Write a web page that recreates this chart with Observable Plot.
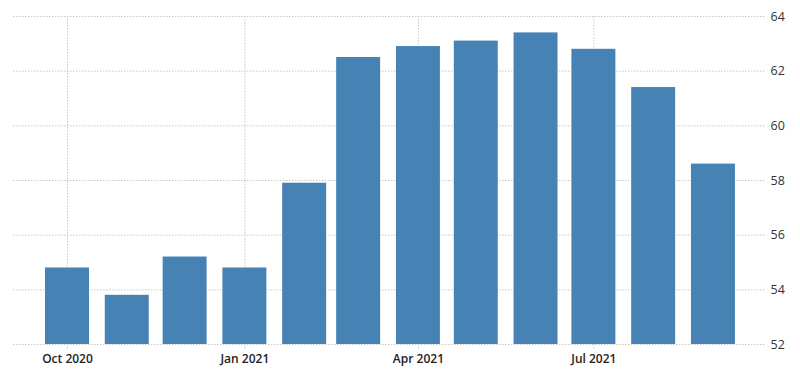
<!DOCTYPE html>
<html>
<head>
<meta charset="utf-8">
<script src="https://cdn.jsdelivr.net/npm/d3@7"></script>
<script src="https://cdn.jsdelivr.net/npm/@observablehq/plot@0.6"></script>
<style>
  html, body { margin: 0; padding: 0; background: #fff; }
  #chart svg { display: block; }
</style>
</head>
<body>
<div id="chart"></div>
<script>
const months = ["2020-10-01","2020-11-01","2020-12-01","2021-01-01","2021-02-01","2021-03-01",
                "2021-04-01","2021-05-01","2021-06-01","2021-07-01","2021-08-01","2021-09-01"];
const values = [54.8, 53.8, 55.2, 54.8, 57.9, 62.5, 62.9, 63.1, 63.4, 62.8, 61.4, 58.6];
const yTicks = [52, 54, 56, 58, 60, 62, 64];
const xTicks = ["2020-10-01","2021-01-01","2021-04-01","2021-07-01"];
const xDomain = ["2020-09-03","2021-09-28"];
const yDomain = [52, 64];

const halfBar = 11.4 * 24 * 3600 * 1000;
const data = months.map((m, i) => {
  const d = new Date(m);
  return {date: d, value: values[i], x1: new Date(+d - halfBar), x2: new Date(+d + halfBar)};
});
const fmt = d3.utcFormat("%b %Y");
const gridStyle = {stroke: "#c8c8c8", strokeOpacity: 1, strokeDasharray: "1.5,1.5"};

const chart = Plot.plot({
  width: 800,
  height: 374,
  marginTop: 16,
  marginBottom: 30,
  marginLeft: 13,
  marginRight: 35,
  style: {fontFamily: "'Open Sans', 'DejaVu Sans', sans-serif", fontSize: "12px", color: "#333", background: "#fff"},
  x: {type: "utc", domain: xDomain.map(s => new Date(s))},
  y: {domain: yDomain},
  marks: [
    Plot.gridY(yTicks, gridStyle),
    Plot.gridX(xTicks.map(s => new Date(s)), gridStyle),
    Plot.rectY(data, {x1: "x1", x2: "x2", y1: yDomain[0], y2: "value", fill: "#4682b4", clip: true}),
    Plot.axisY(yTicks, {anchor: "right", tickSize: 0, tickPadding: 5, label: null, fill: "#333", fontSize: 12.5}),
    Plot.axisX(xTicks.map(s => new Date(s)), {anchor: "bottom", tickSize: 5, tickPadding: 5, stroke: "#c8c8c8", strokeDasharray: "1.5,1.5", label: null, tickFormat: fmt, fill: "#222", fontSize: 12, fontWeight: 600})
  ]
});
document.getElementById("chart").appendChild(chart);
</script>
</body>
</html>
